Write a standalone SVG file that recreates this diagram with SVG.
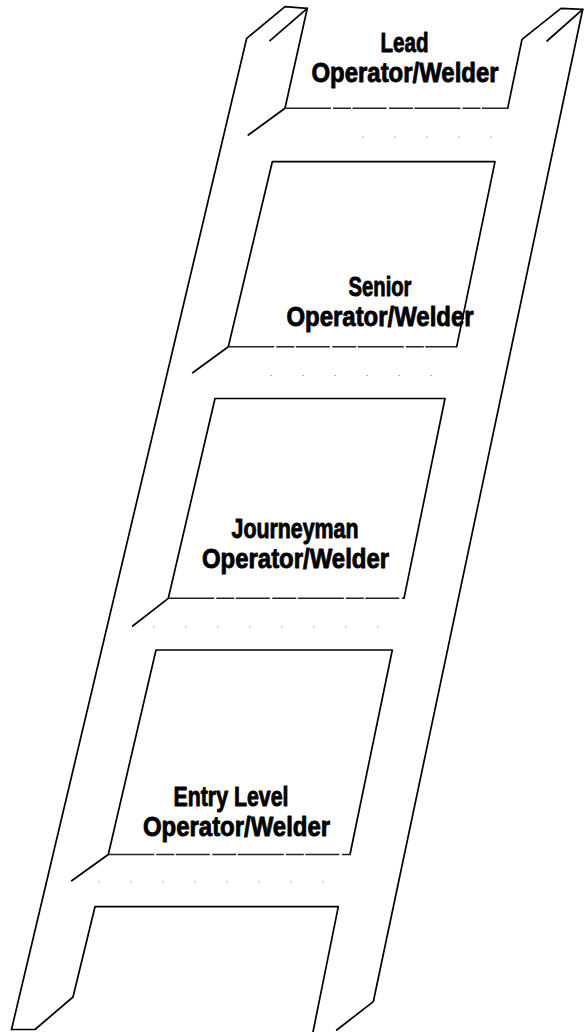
<svg xmlns="http://www.w3.org/2000/svg" width="586" height="1032" viewBox="0 0 586 1032">
<style>
  .edge{fill:none;stroke:#000;stroke-width:1.7;stroke-linejoin:round;stroke-linecap:round}
  .rim{fill:none;stroke:#222;stroke-width:1.4;stroke-dasharray:46 2 18 1.5 34 2.5 24 1.5}
  .far{fill:none;stroke:#b0b0b0;stroke-width:1.2;stroke-dasharray:2 30}
  .lbl{font-family:"Liberation Sans Narrow","Liberation Sans",Arial,sans-serif;font-weight:bold;font-size:28px;fill:#000;stroke:#000;stroke-width:0.9;stroke-linejoin:round;text-anchor:middle}
</style>
<rect width="586" height="1032" fill="#fff"/>
<g id="left-rail">
  <polyline class="edge" points="11.5,1029.5 246.7,38.3 285,6.7 307.3,8.3 285,108.3 248.3,135"/>
  <line class="edge" x1="307.3" y1="8.3" x2="270" y2="40.7"/>
</g>
<g id="right-rail">
  <polyline class="edge" points="507.7,108.3 522,39.3 561,8.3 582.7,9.3 373.3,1001.7 336.7,1030"/>
  <line class="edge" x1="582.7" y1="9.3" x2="547" y2="41"/>
</g>
<g id="rung-lead">
  <line class="rim" x1="285" y1="108.3" x2="507.7" y2="108.3"/>
  <line class="far" x1="362" y1="137" x2="500" y2="137"/>
  <text class="lbl" x="404.5" y="52" textLength="48" lengthAdjust="spacingAndGlyphs">Lead</text>
  <text class="lbl" x="405" y="82" textLength="187" lengthAdjust="spacingAndGlyphs">Operator/Welder</text>
</g>
<g id="rung-senior">
  <path class="edge" d="M192.7,372.7 L228.3,346.7 L272.3,161.7 L495,161.7 L456.7,346.7"/>
  <line class="rim" x1="228.3" y1="346.7" x2="456.7" y2="346.7"/>
  <line class="far" x1="270" y1="375.5" x2="455" y2="375.5"/>
  <text class="lbl" x="380" y="296" textLength="63" lengthAdjust="spacingAndGlyphs">Senior</text>
  <text class="lbl" x="380" y="326" textLength="187" lengthAdjust="spacingAndGlyphs">Operator/Welder</text>
</g>
<g id="rung-journeyman">
  <path class="edge" d="M132.7,626 L168.3,598.3 L215,398.5 L445,398.5 L404,598.3"/>
  <line class="rim" x1="168.3" y1="598.3" x2="404" y2="598.3"/>
  <line class="far" x1="153" y1="627" x2="400" y2="627"/>
  <text class="lbl" x="295" y="538" textLength="127" lengthAdjust="spacingAndGlyphs">Journeyman</text>
  <text class="lbl" x="295.5" y="568" textLength="187" lengthAdjust="spacingAndGlyphs">Operator/Welder</text>
</g>
<g id="rung-entry">
  <path class="edge" d="M71.7,880.7 L108.3,854.5 L156,650 L392.3,650 L350,854.5"/>
  <line class="rim" x1="108.3" y1="854.5" x2="350" y2="854.5"/>
  <line class="far" x1="98" y1="882" x2="345" y2="882"/>
  <text class="lbl" x="231" y="806" textLength="115" lengthAdjust="spacingAndGlyphs">Entry Level</text>
  <text class="lbl" x="236.5" y="836" textLength="187" lengthAdjust="spacingAndGlyphs">Operator/Welder</text>
</g>
<g id="rung-bottom">
  <path class="edge" d="M313,1032 L338.3,906.7 L95,906.7 L73,997 L35,1029.5 L11.5,1029.5"/>
</g>
</svg>
